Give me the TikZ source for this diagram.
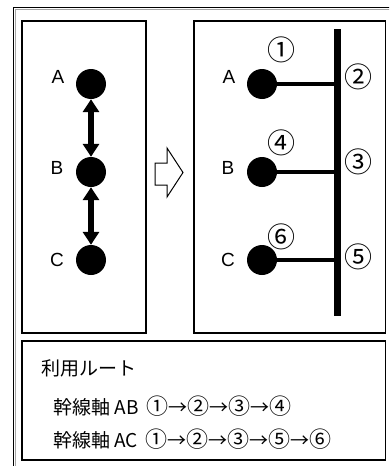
\documentclass[tikz,border=0pt]{standalone}
\usepackage{fontspec}
\setmainfont{Liberation Sans}
\newfontfamily\jp{Noto Sans CJK JP}
\usetikzlibrary{arrows.meta}
% circled digit and arrow inside a route line
\newcommand{\cnum}[1]{{\fontsize{22}{22}\selectfont #1}}
\newcommand{\nextto}{{\fontsize{19}{19}\selectfont →}}
\tikzset{
  panel/.style={draw=black, line width=1.5pt},
  dot/.style={circle, fill=black, inner sep=0pt, minimum size=30pt},
  letter/.style={font=\fontsize{19}{21}\selectfont, inner sep=0pt},
  num/.style={font=\jp\fontsize{28}{30}\selectfont, inner sep=0pt},
  route/.style={font=\jp\fontsize{19}{21}\selectfont, inner sep=0pt, anchor=west},
  link/.style={line width=6pt, {Triangle[width=16pt,length=13pt]}-{Triangle[width=16pt,length=13pt]}},
  branch/.style={line width=3.5pt},
  trunk/.style={line width=7pt}
}
\begin{document}
\begin{tikzpicture}[x=1pt, y=-1pt]
\useasboundingbox (0,0) rectangle (389,466);
\clip (0,0) rectangle (389,466);

% outer double frame
\draw[line width=1.4pt] (13.5,480) |- (400,7.5);
\draw[line width=1pt, black!35] (15.3,480) |- (400,9.3);

% panels
\draw[panel] (22,21) rectangle (146,333);
\draw[panel] (194,21) rectangle (385.5,333);
\draw[panel] (22,341) rectangle (385.5,460);

% left panel: three stations linked by two-way arrows
\node[dot] (lA) at (91,84) {};
\node[dot] (lB) at (91,172) {};
\node[dot] (lC) at (91,260) {};
\node[letter] (lAt) at (58,77) {A};
\node[letter] (lBt) at (57,168) {B};
\node[letter] (lCt) at (57,260) {C};
\draw[link] (lA) -- (lB);
\draw[link] (lB) -- (lC);

% hollow arrow between panels
\draw[line width=1pt, fill=white] (155,163) -- (167,163) -- (167,148) -- (183,172.5)
  -- (167,197) -- (167,185) -- (155,185) -- cycle;

% right panel: trunk line with branches
\coordinate (trunkTop) at (337.5,29);
\coordinate (trunkBot) at (337.5,316);
\draw[trunk] (trunkTop) -- (trunkBot);
\node[dot] (rA) at (262,84) {};
\node[dot] (rB) at (262,172) {};
\node[dot] (rC) at (262,260) {};
\coordinate (jA) at (rA.center -| trunkTop);
\coordinate (jB) at (rB.center -| trunkTop);
\coordinate (jC) at (rC.center -| trunkTop);
\draw[branch] (rA.center) -- (jA);
\draw[branch] (rB.center) -- (jB);
\draw[branch] (rC.center) -- (jC);
\node[letter] (rAt) at (229,77) {A};
\node[letter] (rBt) at (228,168) {B};
\node[letter] (rCt) at (228,260) {C};

\node[num] (n1) at (281,50) {①};
\node[num] (n2) at (358,77) {②};
\node[num] (n4) at (281,143) {④};
\node[num] (n3) at (358,162) {③};
\node[num] (n6) at (281,237) {⑥};
\node[num] (n5) at (358,257) {⑤};

% route legend
\node[route] (title) at (41,368) {利用ルート};
\node[route] (rAB) at (53,406) {幹線軸 AB\hspace{8pt}\cnum{①}\nextto\cnum{②}\nextto\cnum{③}\nextto\cnum{④}};
\node[route] (rAC) at (53,439) {幹線軸 AC\hspace{8pt}\cnum{①}\nextto\cnum{②}\nextto\cnum{③}\nextto\cnum{⑤}\nextto\cnum{⑥}};
\end{tikzpicture}
\end{document}
